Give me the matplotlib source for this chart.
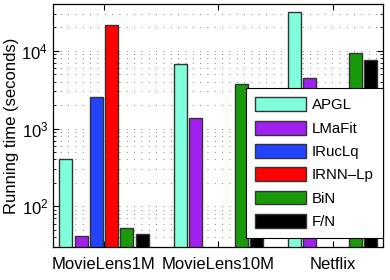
import numpy as np
import matplotlib
matplotlib.use('Agg')
import matplotlib.pyplot as plt

datasets = ['MovieLens1M', 'MovieLens10M', 'Netflix']
methods = ['APGL', 'LMaFit', 'IRucLq', 'IRNN\u2013Lp', 'BiN', 'F/N']
colors = ['#7fffdc', '#a020f0', '#2244ff', '#ff0000', '#1a9a0a', '#000000']

apgl = [400, 6800, 31600]
lmafit = [40, 1380, 4500]
iruclq = [2570, np.nan, np.nan]
irnn = [21500, np.nan, np.nan]
bin_ = [52, 3770, 9400]
fn = [43, 3150, 7650]
times = [apgl, lmafit, iruclq, irnn, bin_, fn]

plt.rcParams['font.family'] = ['Liberation Sans', 'DejaVu Sans']

fig = plt.figure(figsize=(3.9, 2.8), dpi=100)
ax = fig.add_axes([0.136, 0.118, 0.846, 0.868])

x = np.arange(1, len(datasets) + 1)
width = 0.8 / len(methods)
for i, (m, c, t) in enumerate(zip(methods, colors, times)):
    off = (i - (len(methods) - 1) / 2) * width
    ax.bar(x + off, t, width * 0.85, bottom=1, color=c, edgecolor='#333333',
           linewidth=1.0, label=m, zorder=2)

ax.set_yscale('log')
ax.set_ylim(30, 4e4)
ax.set_xlim(0.555, 3.44)
ax.set_xticks(x)
ax.set_xticklabels(datasets, fontsize=12)
ax.tick_params(axis='y', labelsize=12)
ax.tick_params(which='both', direction='in', top=True, right=True)
ax.tick_params(which='major', length=4, width=0.8)
ax.tick_params(which='minor', length=2, width=0.6)
ax.tick_params(axis='x', which='minor', top=False, bottom=False)
ax.tick_params(axis='x', pad=7)
ax.set_ylabel('Running time (seconds)', fontsize=12, labelpad=2)

ax.yaxis.grid(True, which='both', color='#555555', linewidth=0.6,
              linestyle=(0, (1, 7.8)), zorder=0)
ax.set_axisbelow(True)
for s in ax.spines.values():
    s.set_linewidth(0.9)

leg = ax.legend(loc='lower right', bbox_to_anchor=(1.0, 0.037), fontsize=10.8,
                frameon=True, fancybox=False, framealpha=1, edgecolor='black',
                handlelength=3.4, handleheight=1.05, labelspacing=0.55,
                handletextpad=0.4, borderpad=0.6, borderaxespad=0)
leg.get_frame().set_linewidth(0.8)

fig.savefig('out.png', dpi=100)
